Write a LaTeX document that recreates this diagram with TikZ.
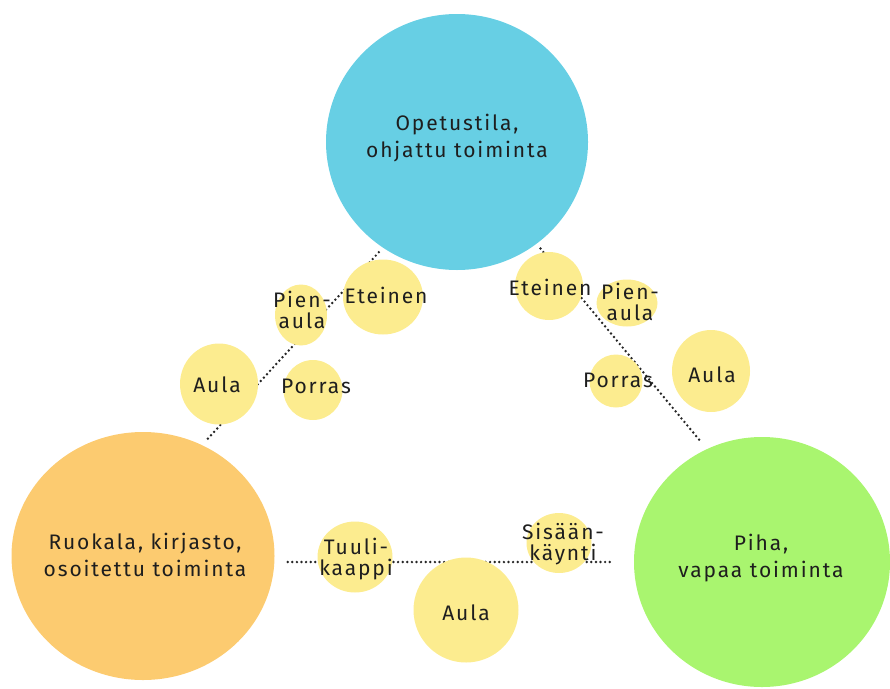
\documentclass[tikz,border=0pt]{standalone}
\usepackage{fontspec}
\setmainfont{Fira Sans}[LetterSpace=9]
\usetikzlibrary{shapes.geometric}
\definecolor{cblue}{HTML}{67CFE4}
\definecolor{corange}{HTML}{FCCB70}
\definecolor{cgreen}{HTML}{A9F56F}
\definecolor{cyell}{HTML}{FCEC8F}
\definecolor{ctext}{HTML}{1E1E1E}
\tikzset{
  bigblob/.style={ellipse, fill=#1, draw=none, inner sep=0pt},
  smallblob/.style={ellipse, fill=cyell, draw=none, inner sep=0pt},
  biglbl/.style={inner sep=0pt, align=center, text=ctext, font=\fontsize{21}{27}\selectfont},
  smalllbl/.style={inner sep=0pt, align=center, text=ctext, font=\fontsize{21}{20.5}\selectfont},
  dotline/.style={line width=2.7pt, line cap=round, dash pattern=on 0pt off 4.6pt, color=black!85}
}
\begin{document}
\begin{tikzpicture}[x=1pt,y=-1pt]
\useasboundingbox (0,0) rectangle (890,688);
\clip (0,0) rectangle (890,688);
% big areas
\node[bigblob=cblue, minimum width=262, minimum height=256] (opetus) at (457,142) {};
\node[bigblob=corange, minimum width=263, minimum height=248] (ruokala) at (143,556) {};
\node[bigblob=cgreen, minimum width=256, minimum height=250] (piha) at (762,562) {};
% connectors
\draw[dotline, shorten <=6pt, shorten >=8pt] (opetus.235) -- (ruokala.62);
\draw[dotline, shorten <=6pt, shorten >=8pt] (opetus.308) -- (piha.116);
\draw[dotline] ([shift={(13,6)}]ruokala.east) -- ([shift={(-20,0)}]piha.west);
% small blobs
\node[smallblob, minimum width=80, minimum height=75] (etL) at (383,297) {};
\node[smallblob, minimum width=52, minimum height=61] (paL) at (301,315) {};
\node[smallblob, minimum width=78, minimum height=81] (auL) at (219,384) {};
\node[smallblob, minimum width=59, minimum height=60] (poL) at (313,390) {};
\node[smallblob, minimum width=68, minimum height=68] (etR) at (549,286) {};
\node[smallblob, minimum width=61, minimum height=47] (paR) at (627,303) {};
\node[smallblob, minimum width=53, minimum height=53] (poR) at (616,381) {};
\node[smallblob, minimum width=78, minimum height=82] (auR) at (711,371) {};
\node[smallblob, minimum width=75, minimum height=71] (tk) at (355,557) {};
\node[smallblob, minimum width=105, minimum height=105] (auB) at (466,610) {};
\node[smallblob, minimum width=65, minimum height=60] (sk) at (559,543) {};
% labels
\node[biglbl] (tOpetus) at (457,138) {Opetustila,\\ohjattu toiminta};
\node[biglbl] (tRuokala) at (145,555) {Ruokala, kirjasto,\\osoitettu toiminta};
\node[biglbl] (tPiha) at (761,558) {Piha,\\vapaa toiminta};
\node[smalllbl, anchor=base] (tEtL) at (386,303) {Eteinen};
\node[smalllbl] (tPaL) at (302,310) {Pien-\\aula};
\node[smalllbl, anchor=base] (tAuL) at (217,392) {Aula};
\node[smalllbl, anchor=base] (tPoL) at (316,393) {Porras};
\node[smalllbl, anchor=base] (tEtR) at (550,295) {Eteinen};
\node[smalllbl] (tPaR) at (630,302) {Pien-\\aula};
\node[smalllbl, anchor=base] (tPoR) at (618,387) {Porras};
\node[smalllbl, anchor=base] (tAuR) at (712,382) {Aula};
\node[smalllbl] (tTk) at (356,559) {Tuuli-\\kaappi};
\node[smalllbl, anchor=base] (tAuB) at (466,620) {Aula};
\node[smalllbl] (tSk) at (563,544) {Sisään-\\käynti};
\end{tikzpicture}
\end{document}
